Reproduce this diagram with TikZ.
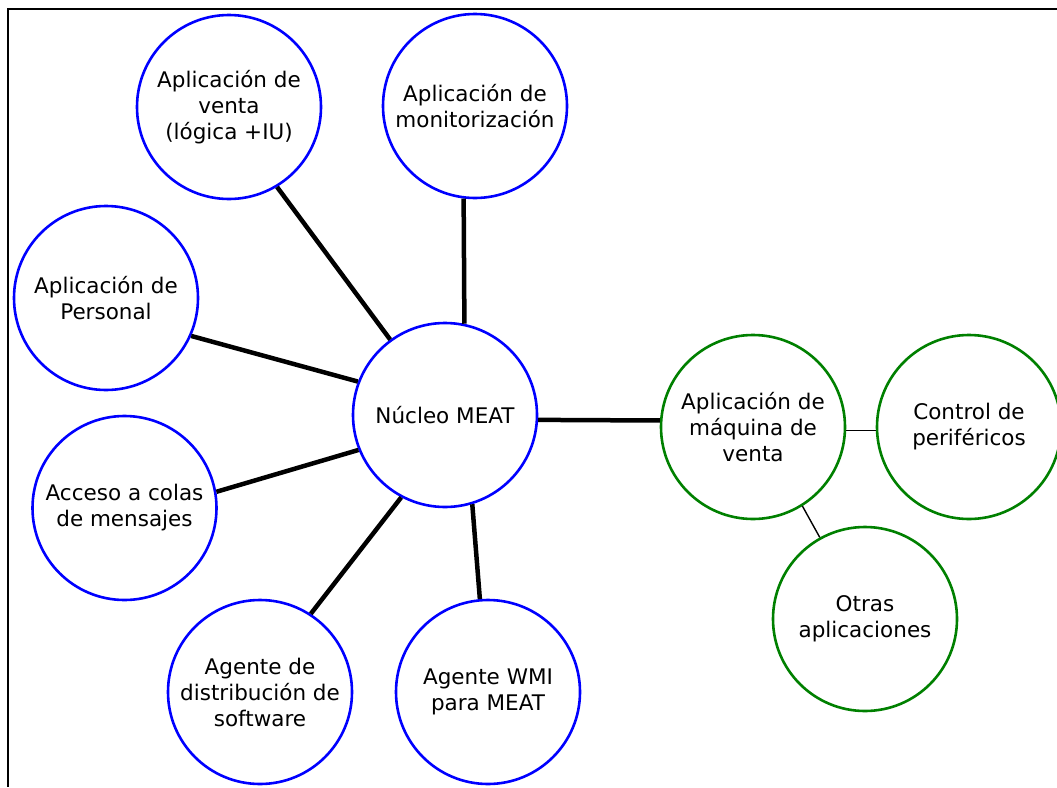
\documentclass[tikz,border=0pt]{standalone}
\usepackage{fontspec}
\setmainfont{DejaVu Sans}
\definecolor{cblue}{RGB}{0,0,255}
\definecolor{cgreen}{RGB}{0,128,0}
\begin{document}
\begin{tikzpicture}[x=1pt,y=-1pt,
  blob/.style={circle, draw=cblue, line width=2.6pt, minimum size=184pt, inner sep=0pt,
    align=center, font=\fontsize{21.5}{26}\selectfont, text=black},
  gblob/.style={blob, draw=cgreen},
  link/.style={line width=4.5pt, draw=black},
  thinlink/.style={line width=1.4pt, draw=black},
  frame/.style={line width=2.2pt, draw=black}]
\useasboundingbox (0,0) rectangle (1057,787);
% frame
\coordinate (f1) at (1057,9);
\coordinate (f2) at (8,9);
\coordinate (f3) at (8,787);
\draw[frame] (f1) -- (f2) -- (f3);
% nodes
\node[blob] (venta) at (229,107) {Aplicación de\\venta\\(lógica +IU)};
\node[blob] (monitor) at (475,106) {Aplicación de\\monitorización};
\node[blob] (personal) at (106,298) {Aplicación de\\Personal};
\node[blob] (acceso) at (124.5,508) {Acceso a colas\\de mensajes};
\node[blob] (nucleo) at (445,415) {Núcleo MEAT};
\node[blob] (distrib) at (260,692) {Agente de\\distribución de\\software};
\node[blob] (wmi) at (488,692) {Agente WMI\\para MEAT};
\node[gblob] (maquina) at (753,427) {Aplicación de\\máquina de\\venta};
\node[gblob] (control) at (969,427) {Control de\\periféricos};
\node[gblob] (otras) at (865,619) {Otras\\aplicaciones};
% connectors
\draw[link] (venta.-59.5) -- (nucleo.126.5);
\draw[link] (monitor.-97.4) -- (nucleo.78.8);
\draw[link] (personal.-24) -- (nucleo.159.6);
\draw[link] (acceso.10) -- (nucleo.-158.8);
\draw[link] (nucleo.-118.5) -- (distrib.57.5);
\draw[link] (nucleo.-73.4) -- (wmi.95);
\draw[link] (nucleo.-3.7) -- (maquina.176.3);
\draw[thinlink] (maquina.-2) -- (control.182);
\draw[thinlink] (maquina.-58) -- (otras.119.6);
\end{tikzpicture}
\end{document}
